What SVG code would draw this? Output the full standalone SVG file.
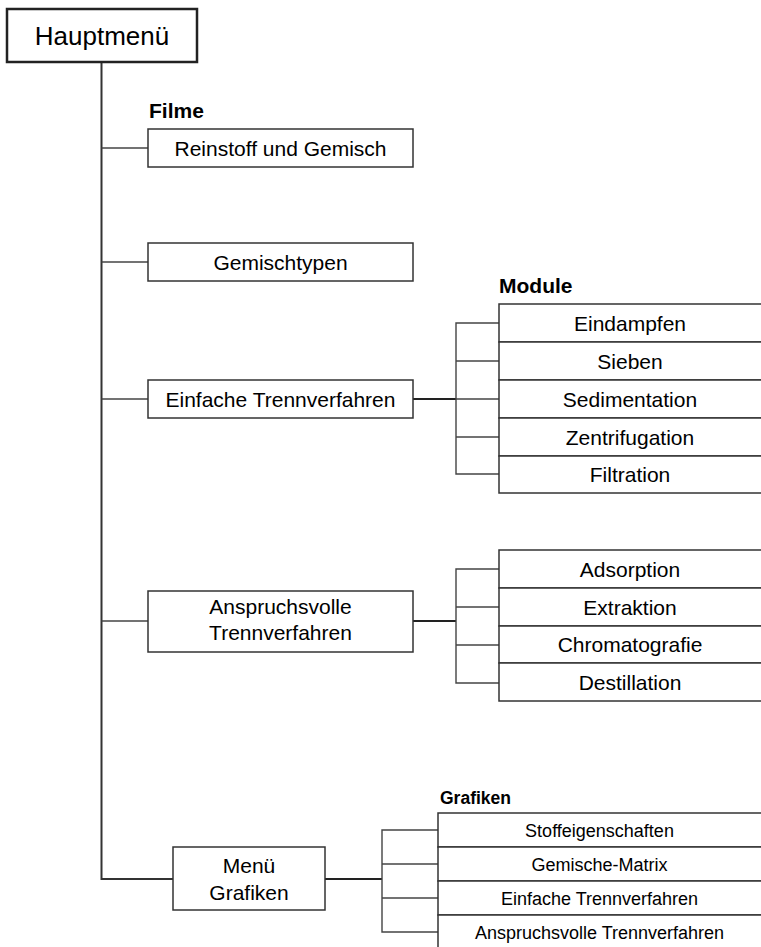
<svg xmlns="http://www.w3.org/2000/svg" width="761" height="947" viewBox="0 0 761 947">
<style>
  .box { fill: #ffffff; stroke: #333333; stroke-width: 1.5; }
  .main { fill: #ffffff; stroke: #222222; stroke-width: 2.5; }
  .t { font-family: "Liberation Sans", Arial, sans-serif; font-size: 21px; fill: #000000; text-anchor: middle; }
  .ts { font-family: "Liberation Sans", Arial, sans-serif; font-size: 18px; fill: #000000; text-anchor: middle; }
  .th { font-family: "Liberation Sans", Arial, sans-serif; font-size: 26px; fill: #000000; text-anchor: middle; }
  .lbl { font-family: "Liberation Sans", Arial, sans-serif; font-size: 21px; font-weight: bold; fill: #000000; }
  .lbls { font-family: "Liberation Sans", Arial, sans-serif; font-size: 17.5px; font-weight: bold; fill: #000000; }
  .ln { fill: none; stroke: #444444; stroke-width: 1.4; }
  .trunk { fill: none; stroke: #333333; stroke-width: 2; }
  .thick { fill: none; stroke: #222222; stroke-width: 2.2; }
</style>

<g id="connectors">
  <path class="trunk" d="M101.5 62 V879 H173"/>
  <path class="ln" d="M101.5 148 H148"/>
  <path class="ln" d="M101.5 262 H148"/>
  <path class="ln" d="M101.5 399 H148"/>
  <path class="ln" d="M101.5 621 H148"/>
  <path class="thick" d="M413 399 H456"/>
  <path class="ln" d="M499 323 H456 V474 H499"/>
  <path class="ln" d="M456 361 H499"/>
  <path class="ln" d="M456 399 H499"/>
  <path class="ln" d="M456 437 H499"/>
  <path class="thick" d="M413 621 H456"/>
  <path class="ln" d="M499 569 H456 V683 H499"/>
  <path class="ln" d="M456 607 H499"/>
  <path class="ln" d="M456 645 H499"/>
  <path class="thick" d="M325 879 H382"/>
  <path class="ln" d="M438 830 H382 V932 H438"/>
  <path class="ln" d="M382 864 H438"/>
  <path class="ln" d="M382 898 H438"/>
</g>

<g id="hauptmenue">
  <rect class="main" x="7" y="9" width="190" height="53"/>
  <text class="th" x="102" y="45">Hauptmenü</text>
</g>

<text id="label-filme" class="lbl" x="149" y="118">Filme</text>
<text id="label-module" class="lbl" x="499" y="293">Module</text>
<text id="label-grafiken" class="lbls" x="440" y="804">Grafiken</text>

<g id="reinstoff">
  <rect class="box" x="148" y="129" width="265" height="38"/>
  <text class="t" x="280.5" y="155.5">Reinstoff und Gemisch</text>
</g>
<g id="gemischtypen">
  <rect class="box" x="148" y="243" width="265" height="38"/>
  <text class="t" x="280.5" y="269.5">Gemischtypen</text>
</g>
<g id="einfache">
  <rect class="box" x="148" y="380" width="265" height="38"/>
  <text class="t" x="280.5" y="406.5">Einfache Trennverfahren</text>
</g>
<g id="anspruchsvolle">
  <rect class="box" x="148" y="591" width="265" height="61"/>
  <text class="t" x="280.5" y="614">Anspruchsvolle</text>
  <text class="t" x="280.5" y="640">Trennverfahren</text>
</g>
<g id="menue-grafiken">
  <rect class="box" x="173" y="847" width="152" height="63"/>
  <text class="t" x="249" y="873">Menü</text>
  <text class="t" x="249" y="900">Grafiken</text>
</g>

<g id="eindampfen">
  <rect class="box" x="499" y="304" width="263" height="38"/>
  <text class="t" x="630" y="330.5">Eindampfen</text>
</g>
<g id="sieben">
  <rect class="box" x="499" y="342" width="263" height="38"/>
  <text class="t" x="630" y="368.5">Sieben</text>
</g>
<g id="sedimentation">
  <rect class="box" x="499" y="380" width="263" height="38"/>
  <text class="t" x="630" y="406.5">Sedimentation</text>
</g>
<g id="zentrifugation">
  <rect class="box" x="499" y="418" width="263" height="38"/>
  <text class="t" x="630" y="444.5">Zentrifugation</text>
</g>
<g id="filtration">
  <rect class="box" x="499" y="456" width="263" height="37"/>
  <text class="t" x="630" y="482">Filtration</text>
</g>

<g id="adsorption">
  <rect class="box" x="499" y="550" width="263" height="38"/>
  <text class="t" x="630" y="576.5">Adsorption</text>
</g>
<g id="extraktion">
  <rect class="box" x="499" y="588" width="263" height="38"/>
  <text class="t" x="630" y="614.5">Extraktion</text>
</g>
<g id="chromatografie">
  <rect class="box" x="499" y="626" width="263" height="37"/>
  <text class="t" x="630" y="652">Chromatografie</text>
</g>
<g id="destillation">
  <rect class="box" x="499" y="663" width="263" height="38"/>
  <text class="t" x="630" y="689.5">Destillation</text>
</g>

<g id="stoffeigenschaften">
  <rect class="box" x="438" y="813" width="324" height="34"/>
  <text class="ts" x="599.5" y="836.5">Stoffeigenschaften</text>
</g>
<g id="gemische-matrix">
  <rect class="box" x="438" y="847" width="324" height="34"/>
  <text class="ts" x="599.5" y="870.5">Gemische-Matrix</text>
</g>
<g id="grafik-einfache">
  <rect class="box" x="438" y="881" width="324" height="34"/>
  <text class="ts" x="599.5" y="904.5">Einfache Trennverfahren</text>
</g>
<g id="grafik-anspruchsvolle">
  <rect class="box" x="438" y="915" width="324" height="40"/>
  <text class="ts" x="599.5" y="939">Anspruchsvolle Trennverfahren</text>
</g>
</svg>
